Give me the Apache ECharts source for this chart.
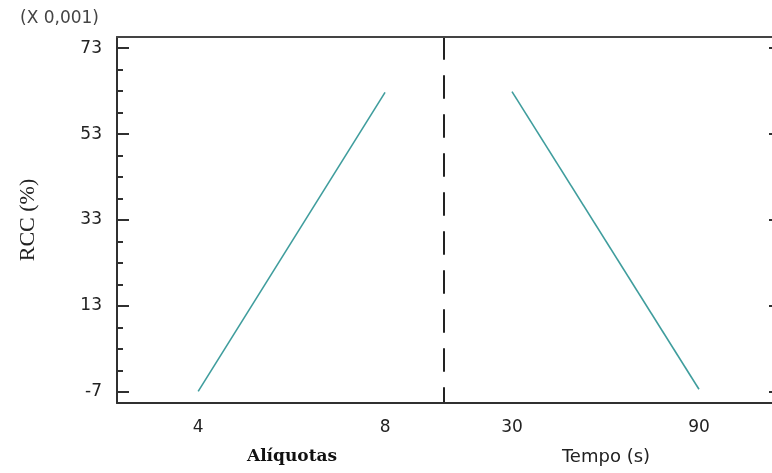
<!DOCTYPE html>
<html>
<head>
<meta charset="utf-8">
<script src="https://cdn.jsdelivr.net/npm/echarts@6/dist/echarts.min.js"></script>
<style>html,body{margin:0;padding:0;background:#fff;}#c{width:772px;height:473px;}</style>
</head>
<body>
<div id="c"></div>
<script>
// ---- data ----
const aliquotasLevels = [4, 8];
const aliquotasMeans = [-6.9, 62.7];
const tempoLevels = [30, 90];
const tempoMeans = [62.9, -6.4];
const yMajorTicks = [-7, 13, 33, 53, 73];
const yMinorTicks = [-7, -2, 3, 8, 13, 18, 23, 28, 33, 38, 43, 48, 53, 58, 63, 68, 73];
const yName = 'RCC (%)';
const scaleNote = '(X 0,001)';
const factor1Name = 'Alíquotas';
const factor2Name = 'Tempo (s)';

const sans = 'DejaVu Sans';
const serif = 'DejaVu Serif';
const axisColor = '#303030';
const lineColor = '#3f9d9d';
const yMin = -9.6, yMax = 75.6;

const chart = echarts.init(document.getElementById('c'), null, {renderer: 'canvas'});

const hidden = {axisLabel: {show: false}, axisTick: {show: false}, splitLine: {show: false}};
function yBase(gridIndex, extra) {
  return Object.assign({type: 'value', gridIndex: gridIndex, min: yMin, max: yMax, splitLine: {show: false}}, extra);
}

const option = {
  animation: false,
  backgroundColor: '#fff',
  grid: [
    {left: 117, top: 37, width: 327, height: 366, outerBoundsMode: 'none', containLabel: false},
    {left: 444, top: 37, width: 336, height: 366, outerBoundsMode: 'none', containLabel: false}
  ],
  graphic: [{
    type: 'text', left: 20, top: 10,
    style: {text: scaleNote, font: '17px "' + sans + '"', fill: '#444'}
  }],
  xAxis: [
    {
      type: 'value', gridIndex: 0, min: 2.262, max: 9.262,
      axisLine: {onZero: false, lineStyle: {color: axisColor, width: 2}},
      axisTick: {show: false}, splitLine: {show: false},
      axisLabel: {customValues: aliquotasLevels, margin: 16, color: '#222', fontFamily: sans, fontSize: 17},
      name: factor1Name, nameLocation: 'middle', nameGap: 45,
      nameTextStyle: {fontFamily: serif, fontSize: 17, color: '#111', fontWeight: 'bold', padding: [0, 0, 0, 23]}
    },
    {
      type: 'value', gridIndex: 1, min: 8.18, max: 116.0,
      axisLine: {onZero: false, lineStyle: {color: axisColor, width: 2}},
      axisTick: {show: false}, splitLine: {show: false},
      axisLabel: {customValues: tempoLevels, margin: 16, color: '#222', fontFamily: sans, fontSize: 17},
      name: factor2Name, nameLocation: 'middle', nameGap: 45,
      nameTextStyle: {fontFamily: sans, fontSize: 18, color: '#222', padding: [0, 12, 0, 0]}
    },
    Object.assign({type: 'value', gridIndex: 0, position: 'top', min: 2.262, max: 9.262,
      axisLine: {show: true, onZero: false, lineStyle: {color: '#444', width: 2}}}, hidden),
    Object.assign({type: 'value', gridIndex: 1, position: 'top', min: 8.18, max: 116.0,
      axisLine: {show: true, onZero: false, lineStyle: {color: '#444', width: 2}}}, hidden)
  ],
  yAxis: [
    yBase(0, {
      position: 'left',
      axisLine: {show: true, onZero: false, lineStyle: {color: axisColor, width: 2}},
      axisTick: {show: true, inside: true, length: 6, customValues: yMinorTicks, lineStyle: {color: axisColor, width: 2}},
      axisLabel: {customValues: yMajorTicks, margin: 15, color: '#222', fontFamily: sans, fontSize: 17},
      name: yName, nameLocation: 'middle', nameGap: 78,
      nameTextStyle: {fontFamily: 'Liberation Serif', fontSize: 22, color: '#222'}
    }),
    yBase(0, {
      position: 'left',
      axisLine: {show: false, onZero: false},
      axisTick: {show: true, inside: true, length: 12, customValues: yMajorTicks, lineStyle: {color: axisColor, width: 2}},
      axisLabel: {show: false}
    }),
    yBase(1, {
      position: 'left',
      axisLine: {show: true, onZero: false, lineStyle: {color: '#222', width: 2, type: [22, 17], dashOffset: 7}},
      axisTick: {show: false}, axisLabel: {show: false}
    }),
    yBase(1, {
      position: 'right',
      axisLine: {show: true, onZero: false, lineStyle: {color: axisColor, width: 2}},
      axisTick: {show: true, inside: true, length: 11, customValues: yMajorTicks, lineStyle: {color: axisColor, width: 2}},
      axisLabel: {show: false}
    })
  ],
  series: [
    {
      type: 'line', xAxisIndex: 0, yAxisIndex: 0, symbol: 'none',
      lineStyle: {color: lineColor, width: 1.6},
      data: aliquotasLevels.map((x, i) => [x, aliquotasMeans[i]])
    },
    {
      type: 'line', xAxisIndex: 1, yAxisIndex: 2, symbol: 'none',
      lineStyle: {color: lineColor, width: 1.6},
      data: tempoLevels.map((x, i) => [x, tempoMeans[i]])
    }
  ]
};
chart.setOption(option);
</script>
</body>
</html>
